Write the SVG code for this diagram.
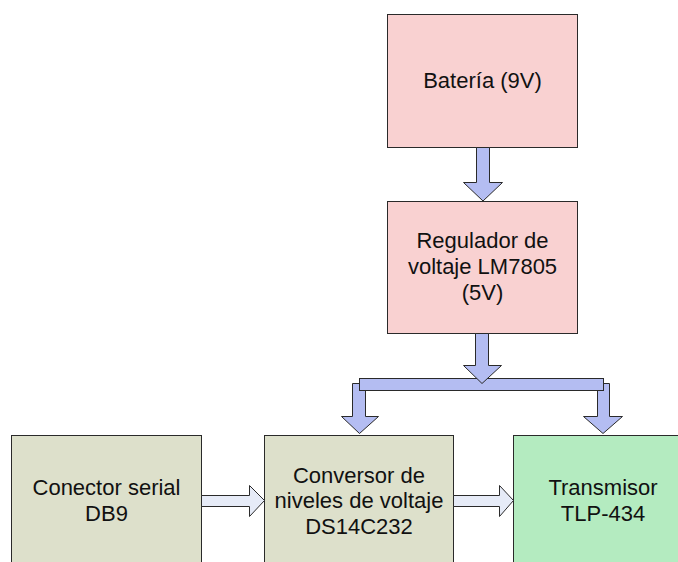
<svg xmlns="http://www.w3.org/2000/svg" width="678" height="562" viewBox="0 0 678 562">
<style>
.box{stroke:#2a2a2a;stroke-width:1}
.pink{fill:#f9d1d1}
.beige{fill:#dde0cb}
.green{fill:#b4ebc0}
.pw{fill:#b4bdf2;stroke:#2a2a2a;stroke-width:1;stroke-linejoin:miter}
.lt{fill:#e6ebf7;stroke:#2a2a2a;stroke-width:1}
text{font-family:"Liberation Sans",Arial,sans-serif;font-size:22px;fill:#111;text-anchor:middle}
</style>
<rect width="678" height="562" fill="#ffffff"/>
<g id="bateria">
<rect class="box pink" x="387.5" y="14.5" width="190" height="133"/>
<text x="482.5" y="88">Batería (9V)</text>
</g>
<g id="regulador">
<rect class="box pink" x="387.5" y="201.5" width="190" height="132"/>
<text x="482.5" y="248">Regulador de</text>
<text x="482.5" y="274">voltaje LM7805</text>
<text x="482.5" y="300">(5V)</text>
</g>
<g id="conector">
<rect class="box beige" x="11.5" y="435.5" width="190" height="130"/>
<text x="106.5" y="495">Conector serial</text>
<text x="106.5" y="521">DB9</text>
</g>
<g id="conversor">
<rect class="box beige" x="264.5" y="435.5" width="189" height="130"/>
<text x="359" y="483">Conversor de</text>
<text x="359" y="508">niveles de voltaje</text>
<text x="359" y="534">DS14C232</text>
</g>
<g id="transmisor">
<rect class="box green" x="513.5" y="435.5" width="180" height="130"/>
<text x="603" y="495">Transmisor</text>
<text x="603" y="521">TLP-434</text>
</g>
<g id="connectors">
<polygon class="pw" points="476.5,147.5 489.5,147.5 489.5,182.5 502.5,182.5 483,201 463.5,182.5 476.5,182.5"/>
<polygon class="pw" points="352.5,383.5 365.5,383.5 365.5,416.5 378.5,416.5 359.5,433.5 341.5,416.5 352.5,416.5"/>
<polygon class="pw" points="597.5,383.5 609.5,383.5 609.5,416.5 622.5,416.5 603,433.5 583.5,416.5 597.5,416.5"/>
<rect class="pw" x="359.5" y="378.5" width="244" height="12"/>
<polygon class="pw" points="475.5,333.5 488.5,333.5 488.5,365.5 501.5,365.5 482,383.5 463.5,365.5 475.5,365.5"/>
<polygon class="lt" points="201.5,495.5 249.5,495.5 249.5,485.5 264.5,500.5 249.5,516.5 249.5,506.5 201.5,506.5"/>
<polygon class="lt" points="453.5,495.5 499.5,495.5 499.5,485.5 513.5,500.5 499.5,516.5 499.5,506.5 453.5,506.5"/>
</g>
</svg>
